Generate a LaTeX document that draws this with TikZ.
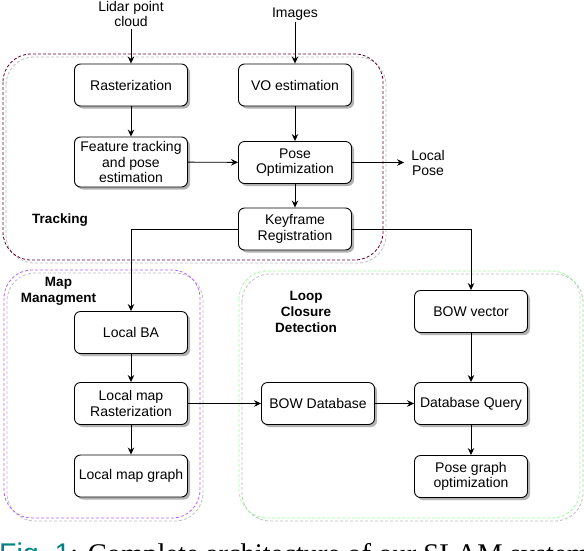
\documentclass[tikz,border=0pt]{standalone}
\usepackage{fontspec}
\setmainfont{Liberation Serif}
\setsansfont{Liberation Sans}
\usetikzlibrary{positioning, shapes, arrows.meta, shadows}
\tikzset{>={Stealth[length=7pt,width=6.5pt]}}
\definecolor{trackcol}{RGB}{100,0,50}
\definecolor{mapcol}{RGB}{178,102,255}
\definecolor{loopcol}{RGB}{153,255,153}
\tikzset{
    block/.style={draw, fill=white, rounded corners=6pt, line width=0.9pt,
        minimum width=113pt, minimum height=42pt, inner sep=1pt, align=center,
        font=\sffamily\fontsize{14}{15.5}\selectfont,
        drop shadow={shadow xshift=2.5pt, shadow yshift=-2.5pt, fill=black!30, opacity=1}},
    plain/.style={align=center, inner sep=2pt, font=\sffamily\fontsize{14}{15}\selectfont},
    grplabel/.style={align=center, inner sep=0pt, font=\sffamily\bfseries\fontsize{13.5}{16}\selectfont},
    grp/.style={dash pattern=on 3pt off 2pt, line width=0.8pt, rounded corners=28pt},
    grpshadow/.style={grp, draw=black!25},
    flow/.style={->, line width=0.9pt}
}

\begin{document}
\begin{tikzpicture}[x=1pt, y=-1pt]
    \useasboundingbox (0,0) rectangle (584,550);

    % groups
    \draw[grpshadow] (6,57) rectangle (386,263);
    \draw[grp, draw=trackcol] (3,54) rectangle (383,260);
    \draw[grpshadow] (7,273) rectangle (203,521);
    \draw[grp, draw=mapcol] (4,270) rectangle (200,518);
    \draw[grpshadow] (242,274) rectangle (583,521);
    \draw[grp, draw=loopcol] (239,271) rectangle (580,518);

    \node[grplabel] (tracklbl) at (60,220) {Tracking};
    \node[grplabel] (maplbl) at (58.5,291) {Map\\Managment};
    \node[grplabel] (looplbl) at (306,312) {Loop\\Closure\\Detection};

    % inputs and output
    \node[plain] (lidar) at (131,14) {Lidar point\\cloud};
    \node[plain] (images) at (295,14) {Images};
    \node[plain, inner xsep=7pt] (localpose) at (428,162.5) {Local\\Pose};

    % tracking
    \node[block] (rast) at (131,85) {Rasterization};
    \node[block] (vo) at (295,85) {VO estimation};
    \node[block, minimum height=50pt] (feat) at (131,162) {Feature tracking\\and pose\\estimation};
    \node[block] (posopt) at (295,162.5) {Pose\\Optimization};
    \node[block] (keyframe) at (295,229) {Keyframe\\Registration};

    % map management
    \node[block] (localba) at (131,332.5) {Local BA};
    \node[block] (lmrast) at (131,403.5) {Local map\\Rasterization};
    \node[block] (lmgraph) at (131,476) {Local map graph};

    % loop closure
    \node[block] (bowvec) at (471,311.5) {BOW vector};
    \node[block] (bowdb) at (318,403.5) {BOW Database};
    \node[block] (dbquery) at (471,403.5) {Database Query};
    \node[block] (pgopt) at (471,476.5) {Pose graph\\optimization};

    \draw[flow] (lidar) -- (rast);
    \draw[flow] (images) -- (vo);
    \draw[flow] (rast) -- (feat);
    \draw[flow] (vo) -- (posopt);
    \draw[flow] (feat) -- (posopt);
    \draw[flow] (posopt) -- (localpose);
    \draw[flow] (posopt) -- (keyframe);
    \draw[flow] (keyframe.west) -| (localba.north);
    \draw[flow] (keyframe.east) -| (bowvec.north);
    \draw[flow] (localba) -- (lmrast);
    \draw[flow] (lmrast) -- (lmgraph);
    \draw[flow] (lmrast) -- (bowdb);
    \draw[flow] (bowdb) -- (dbquery);
    \draw[flow] (bowvec) -- (dbquery);
    \draw[flow] (dbquery) -- (pgopt);

    \node[anchor=base west, inner sep=0pt, font=\fontsize{28.5}{30}\selectfont] (caption) at (-1,563)
        {\textcolor{teal}{\sffamily Fig.~1}: Complete architecture of our SLAM system};
\end{tikzpicture}
\end{document}
